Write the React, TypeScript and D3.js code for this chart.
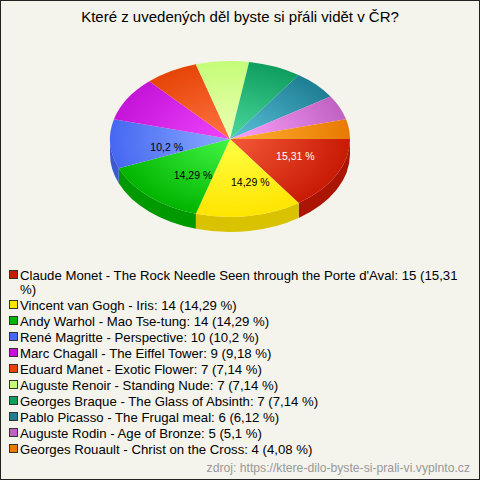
import React from "react";
import * as d3 from "d3";

const title = "Které z uvedených děl byste si přáli vidět v ČR?";
const source = "zdroj: https://ktere-dilo-byste-si-prali-vi.vyplnto.cz";

const categories = [
  "Claude Monet - The Rock Needle Seen through the Porte d'Aval",
  "Vincent van Gogh - Iris",
  "Andy Warhol - Mao Tse-tung",
  "René Magritte - Perspective",
  "Marc Chagall - The Eiffel Tower",
  "Eduard Manet - Exotic Flower",
  "Auguste Renoir - Standing Nude",
  "Georges Braque - The Glass of Absinth",
  "Pablo Picasso - The Frugal meal",
  "Auguste Rodin - Age of Bronze",
  "Georges Rouault - Christ on the Cross",
];
const values = [15, 14, 14, 10, 9, 7, 7, 7, 6, 5, 4];

const baseColors = [
  "#c81a04", "#ffe400", "#00b400", "#4668f2", "#c414d8", "#e64406",
  "#c4fc78", "#0e9e5e", "#1e7e94", "#c062c2", "#e87a00",
];
const lightColors = [
  "#f45a38", "#ffff44", "#44f644", "#8aaaff", "#f044ff", "#ff7444",
  "#eeffb4", "#4cd89e", "#5cc2d8", "#ffa2ff", "#ffb234",
];

const W = 480;
const H = 480;
const cx = 230;
const cy = 139;
const rx = 120;
const ry = 78;
const depth = 15;
const FONT = "'Liberation Sans', Arial, sans-serif";

function measure(text: string, size: number) {
  const c = document.createElement("canvas").getContext("2d")!;
  c.font = `${size}px 'Liberation Sans', Arial, sans-serif`;
  return c.measureText(text).width;
}

function wrap(text: string, size: number, maxW: number) {
  const words = text.split(" ");
  const lines: string[] = [];
  let cur = "";
  for (const w of words) {
    const t = cur ? cur + " " + w : w;
    if (cur && measure(t, size) > maxW) {
      lines.push(cur);
      cur = w;
    } else cur = t;
  }
  if (cur) lines.push(cur);
  return lines;
}

const pt = (t: number, dy = 0) => [cx + rx * Math.cos(t), cy + ry * Math.sin(t) + dy];

export default function App() {
  const total = d3.sum(values);
  const fmt = d3.format(".2~f");
  const pct = values.map((v) => fmt((v / total) * 100).replace(".", ","));
  const arcs = d3.pie<number>().sort(null).startAngle(0).endAngle(2 * Math.PI)(values);

  const sides = arcs
    .map((a, i) => {
      const s = Math.max(a.startAngle, 0);
      const e = Math.min(a.endAngle, Math.PI);
      if (s >= e) return null;
      const [x0, y0] = pt(s);
      const [x1, y1] = pt(e);
      const d = `M${x0},${y0}A${rx},${ry} 0 0 1 ${x1},${y1}L${x1},${y1 + depth}A${rx},${ry} 0 0 0 ${x0},${y0 + depth}Z`;
      return { d, i };
    })
    .filter(Boolean) as { d: string; i: number }[];

  const tops = arcs.map((a, i) => {
    const [x0, y0] = pt(a.startAngle);
    const [x1, y1] = pt(a.endAngle);
    const large = a.endAngle - a.startAngle > Math.PI ? 1 : 0;
    return { d: `M${cx},${cy}L${x0},${y0}A${rx},${ry} 0 ${large} 1 ${x1},${y1}Z`, i };
  });

  const labels = arcs
    .map((a, i) => {
      if (values[i] / total < 0.1) return null;
      const m = (a.startAngle + a.endAngle) / 2 - 0.1;
      const [x, y] = [cx + 0.56 * rx * Math.cos(m) + 3, cy + 0.56 * ry * Math.sin(m) + 1];
      const c = d3.rgb(baseColors[i]);
      const bright = 0.299 * c.r + 0.587 * c.g + 0.114 * c.b;
      return { x, y, text: `${pct[i]} %`, fill: bright < 90 ? "#fff" : "#000" };
    })
    .filter(Boolean) as { x: number; y: number; text: string; fill: string }[];

  const legendSize = 13.2;
  const items: { lines: string[]; y: number; i: number }[] = [];
  let y = 280;
  categories.forEach((cat, i) => {
    const lines = wrap(`${cat}: ${values[i]} (${pct[i]} %)`, legendSize, 450);
    items.push({ lines, y, i });
    y += 16 + (lines.length - 1) * 14;
  });

  const gT = `translate(0,${cy}) scale(1,${ry / rx}) translate(0,${-cy})`;

  return (
    <div style={{ position: "absolute", left: 0, top: 0 }}>
      <svg width={W} height={H} style={{ display: "block" }} fontFamily={FONT}>
        <defs>
          {baseColors.map((c, i) => (
            <radialGradient
              key={i}
              id={`g${i}`}
              gradientUnits="userSpaceOnUse"
              cx={cx}
              cy={cy}
              r={rx}
              gradientTransform={gT}
            >
              <stop offset="0" stopColor={lightColors[i]} />
              <stop offset="1" stopColor={c} />
            </radialGradient>
          ))}
        </defs>
        <rect x={0.5} y={0.5} width={W - 1} height={H - 1} fill="#f4f3ec" stroke="#222" />
        <text x={240} y={22} textAnchor="middle" fontSize={15} fill="#000">
          {title}
        </text>
        {sides.map((s) => (
          <path key={`s${s.i}`} d={s.d} fill={d3.rgb(baseColors[s.i]).darker(0.45).toString()} />
        ))}
        {tops.map((t) => (
          <path key={`t${t.i}`} d={t.d} fill={`url(#g${t.i})`} />
        ))}
        {labels.map((l, k) => (
          <text key={k} x={l.x} y={l.y} dy="0.35em" textAnchor="middle" fontSize={10.5} fill={l.fill}>
            {l.text}
          </text>
        ))}
        {items.map((it) => (
          <g key={it.i}>
            <rect x={9.5} y={it.y - 9.5} width={8} height={8} fill={baseColors[it.i]} stroke="#333" />
            {it.lines.map((ln, k) => (
              <text key={k} x={20} y={it.y + k * 14} fontSize={legendSize} fill="#000">
                {ln}
              </text>
            ))}
          </g>
        ))}
        <text x={470} y={472} textAnchor="end" fontSize={12.2} fill="#999">
          {source}
        </text>
      </svg>
    </div>
  );
}
